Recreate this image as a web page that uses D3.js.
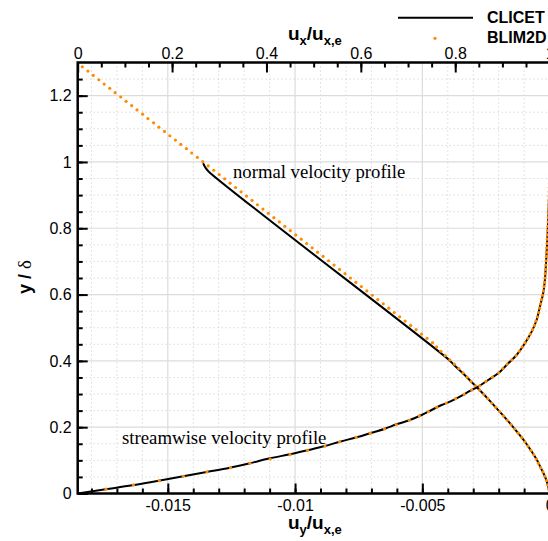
<!DOCTYPE html>
<html>
<head>
<meta charset="utf-8">
<script src="https://cdn.jsdelivr.net/npm/d3@7"></script>
<style>
body { margin: 0; background: #fff; }
</style>
</head>
<body>
<svg id="chart"></svg>
<script>
// tick labels
var bottomTicks = [-0.015, -0.01, -0.005, 0];
var topTicks = [0, 0.2, 0.4, 0.6, 0.8, 1];
var leftTicks = [0, 0.2, 0.4, 0.6, 0.8, 1, 1.2];

// CLICET, streamwise profile (u_x/u_x,e against y/delta)
var clicetStreamU = [0, 0.0593, 0.1157, 0.1716, 0.2237, 0.2733, 0.3206, 0.365, 0.4074, 0.4498, 0.4886, 0.5239,
  0.5557, 0.5911, 0.6193, 0.6511, 0.6758, 0.704, 0.7288, 0.75, 0.7712, 0.7888, 0.81, 0.8312, 0.8487, 0.8699,
  0.8911, 0.9123, 0.9301, 0.9477, 0.9619, 0.9725, 0.9794, 0.9864, 0.99, 0.9936, 0.9958, 0.9985, 1];
var clicetStreamY = [0, 0.0127, 0.0247, 0.0386, 0.0519, 0.0649, 0.0769, 0.0911, 0.1062, 0.1183, 0.1312, 0.1433,
  0.1563, 0.1695, 0.1816, 0.1955, 0.2087, 0.2217, 0.2368, 0.2519, 0.267, 0.2769, 0.292, 0.3092, 0.3222, 0.3424,
  0.3626, 0.3928, 0.4178, 0.4531, 0.4881, 0.5234, 0.5635, 0.6039, 0.644, 0.7246, 0.7849, 0.885, 0.996];

// CLICET, normal profile (u_y/u_x,e against y/delta)
var clicetNormalU = [0, -0.00003, -0.00007, -0.000185, -0.00035, -0.00052, -0.000735, -0.000968, -0.001235,
  -0.001512, -0.001812, -0.002118, -0.002428, -0.002752, -0.003085, -0.003428, -0.003785, -0.003952,
  -0.013388, -0.013526, -0.013612];
var clicetNormalY = [0, 0.013, 0.026, 0.052, 0.078, 0.104, 0.13, 0.156, 0.182, 0.208, 0.234, 0.26, 0.286, 0.312,
  0.338, 0.364, 0.39, 0.403, 0.9707, 0.9834, 0.9961];

// BLIM2D, both profiles on the same wall-normal points
var blimY = [0, 0.013, 0.026, 0.039, 0.052, 0.065, 0.078, 0.091, 0.104, 0.117, 0.13, 0.143, 0.156, 0.169, 0.182,
  0.195, 0.208, 0.221, 0.234, 0.247, 0.26, 0.273, 0.286, 0.299, 0.312, 0.325, 0.338, 0.351, 0.364, 0.377, 0.39,
  0.403, 0.416, 0.429, 0.442, 0.455, 0.468, 0.481, 0.494, 0.507, 0.52, 0.533, 0.546, 0.559, 0.572, 0.585, 0.598,
  0.611, 0.624, 0.637, 0.65, 0.663, 0.676, 0.689, 0.702, 0.715, 0.728, 0.741, 0.754, 0.767, 0.78, 0.793, 0.806,
  0.819, 0.832, 0.845, 0.858, 0.871, 0.884, 0.897, 0.91, 0.923, 0.936, 0.949, 0.962, 0.975, 0.988, 1.001, 1.014,
  1.027, 1.04, 1.053, 1.066, 1.079, 1.092, 1.105, 1.118, 1.131, 1.144, 1.157, 1.17, 1.183, 1.196, 1.209, 1.222,
  1.235, 1.248, 1.261, 1.274, 1.287, 1.3];
var blimStreamU = [0, 0.06, 0.118, 0.173, 0.224, 0.274, 0.324, 0.365, 0.408, 0.45, 0.487, 0.524, 0.555, 0.59,
  0.62, 0.65, 0.675, 0.703, 0.724, 0.743, 0.761, 0.781, 0.801, 0.819, 0.835, 0.852, 0.865, 0.879, 0.892, 0.901,
  0.91, 0.92, 0.929, 0.936, 0.942, 0.948, 0.954, 0.959, 0.964, 0.968, 0.971, 0.974, 0.977, 0.979, 0.981, 0.983,
  0.985, 0.987, 0.988, 0.9894, 0.9903, 0.9908, 0.9914, 0.992, 0.9926, 0.9932, 0.9937, 0.9942, 0.9947, 0.9952,
  0.9957, 0.9961, 0.9966, 0.997, 0.9974, 0.9978, 0.9981, 0.9984, 0.9987, 0.999, 0.9992, 0.9994, 0.9996, 0.9998,
  0.9999, 1, 1, 1, 1, 1, 1, 1, 1, 1, 1, 1, 1, 1, 1, 1, 1, 1, 1, 1, 1, 1, 1, 1, 1, 1, 1];
var blimNormalU = [0, -0.00003, -0.00007, -0.000122, -0.000185, -0.000262, -0.00035, -0.00044, -0.00052,
  -0.000622, -0.000735, -0.000852, -0.000968, -0.001095, -0.001235, -0.001372, -0.001512, -0.00166, -0.001812,
  -0.001965, -0.002118, -0.002272, -0.002428, -0.002588, -0.002752, -0.002918, -0.003085, -0.00324, -0.0034,
  -0.003565, -0.00374, -0.00392, -0.0041, -0.00427, -0.00444, -0.004601, -0.004816, -0.005031, -0.005246,
  -0.005461, -0.005676, -0.005891, -0.006105, -0.00632, -0.006535, -0.00675, -0.006965, -0.00718, -0.007395,
  -0.00761, -0.007825, -0.008039, -0.008254, -0.008469, -0.008684, -0.008899, -0.009114, -0.009329, -0.009544,
  -0.009759, -0.009973, -0.010188, -0.010403, -0.010618, -0.010833, -0.011048, -0.011263, -0.011478, -0.011693,
  -0.011907, -0.012122, -0.012337, -0.012552, -0.012767, -0.012982, -0.013197, -0.013412, -0.013627, -0.01384,
  -0.01406, -0.01427, -0.01449, -0.0147, -0.01492, -0.01513, -0.01535, -0.01556, -0.01578, -0.01599, -0.01621,
  -0.01642, -0.01664, -0.01685, -0.01707, -0.01728, -0.0175, -0.01771, -0.01793, -0.01814, -0.01836, -0.01854];

var W = 548, H = 541;
var box = {left: 77.7, right: 549.6, top: 62.5, bottom: 493.5};
var sans = "Liberation Sans, Arial, sans-serif";
var serif = "Liberation Serif, Times New Roman, serif";

var x = d3.scaleLinear().domain([-0.01854, 0]).range([box.left, box.right]);
var xTop = d3.scaleLinear().domain([0, 1]).range([box.left, box.right]);
var y = d3.scaleLinear().domain([0, 1.3]).range([box.bottom, box.top]);

var svg = d3.select("#chart").attr("width", W).attr("height", H).attr("font-family", sans);

svg.append("clipPath").attr("id", "plotclip")
  .append("rect")
    .attr("x", box.left).attr("y", box.top)
    .attr("width", box.right - box.left).attr("height", box.bottom - box.top);

// grid
var grid = svg.append("g");
var vMinor = d3.range(-18, 0).map(function (d) { return d / 1000; }).filter(function (d) { return Math.round(d * 1000) % 5 != 0; });
var hMinor = d3.range(1, 26).map(function (d) { return d / 20; }).filter(function (d) { return Math.round(d * 20) % 4 != 0; });

grid.selectAll(".vmin").data(vMinor).enter().append("line")
    .attr("x1", x).attr("x2", x).attr("y1", box.top).attr("y2", box.bottom)
    .attr("stroke", "#c8c8c8").attr("stroke-width", 1).attr("stroke-dasharray", "1,3");
grid.selectAll(".hmin").data(hMinor).enter().append("line")
    .attr("y1", y).attr("y2", y).attr("x1", box.left).attr("x2", box.right)
    .attr("stroke", "#c8c8c8").attr("stroke-width", 1).attr("stroke-dasharray", "1,3");
grid.selectAll(".vmaj").data(bottomTicks.slice(0, 3)).enter().append("line")
    .attr("x1", x).attr("x2", x).attr("y1", box.top).attr("y2", box.bottom)
    .attr("stroke", "#dcdcdc").attr("stroke-width", 1.2);
grid.selectAll(".hmaj").data(leftTicks.slice(1)).enter().append("line")
    .attr("y1", y).attr("y2", y).attr("x1", box.left).attr("x2", box.right)
    .attr("stroke", "#dcdcdc").attr("stroke-width", 1.2);

// curves
var plot = svg.append("g").attr("clip-path", "url(#plotclip)");

var lineStream = d3.line()
    .x(function (i) { return xTop(clicetStreamU[i]); })
    .y(function (i) { return y(clicetStreamY[i]); })
    .curve(d3.curveCatmullRom.alpha(0.5));
var lineNormal = d3.line()
    .x(function (i) { return x(clicetNormalU[i]); })
    .y(function (i) { return y(clicetNormalY[i]); })
    .curve(d3.curveCatmullRom.alpha(0.5));

plot.append("path").datum(d3.range(clicetStreamU.length))
    .attr("d", lineStream).attr("fill", "none").attr("stroke", "#000").attr("stroke-width", 2);
plot.append("path").datum(d3.range(clicetNormalU.length))
    .attr("d", lineNormal).attr("fill", "none").attr("stroke", "#000").attr("stroke-width", 2);

var orange = "#ff8c00";
plot.selectAll(".dotS").data(d3.range(blimY.length)).enter().append("circle")
    .attr("cx", function (i) { return xTop(blimStreamU[i]); })
    .attr("cy", function (i) { return y(blimY[i]); })
    .attr("r", 1.6).attr("fill", orange);
plot.selectAll(".dotN").data(d3.range(blimY.length)).enter().append("circle")
    .attr("cx", function (i) { return x(blimNormalU[i]); })
    .attr("cy", function (i) { return y(blimY[i]); })
    .attr("r", 1.6).attr("fill", orange);

// axes
function styleAxis(g) {
  g.attr("font-family", sans).attr("font-size", 16);
  g.select(".domain").remove();
  g.selectAll(".tick line").attr("stroke", "#000").attr("stroke-width", 2);
  g.selectAll("text").attr("fill", "#000");
}
var fmt = function (d) { return d === 0 ? "0" : String(d); };

var minorBottom = d3.range(-18, 0).map(function (d) { return d / 1000; });
var minorTop = d3.range(1, 20).map(function (d) { return d / 20; });
var minorLeft = d3.range(1, 26).map(function (d) { return d / 20; });

svg.append("g").attr("transform", "translate(0," + box.bottom + ")")
    .call(d3.axisBottom(x).tickValues(minorBottom).tickFormat("").tickSize(-5)).call(styleAxis);
svg.append("g").attr("transform", "translate(0," + box.bottom + ")")
    .call(d3.axisBottom(x).tickValues(bottomTicks).tickFormat(fmt).tickSize(-10).tickPadding(6)).call(styleAxis);

svg.append("g").attr("transform", "translate(0," + box.top + ")")
    .call(d3.axisTop(xTop).tickValues(minorTop).tickFormat("").tickSize(-5)).call(styleAxis);
svg.append("g").attr("transform", "translate(0," + box.top + ")")
    .call(d3.axisTop(xTop).tickValues(topTicks).tickFormat(fmt).tickSize(-10).tickPadding(4)).call(styleAxis);

svg.append("g").attr("transform", "translate(" + box.left + ",0)")
    .call(d3.axisLeft(y).tickValues(minorLeft).tickFormat("").tickSize(-5)).call(styleAxis);
svg.append("g").attr("transform", "translate(" + box.left + ",0)")
    .call(d3.axisLeft(y).tickValues(leftTicks).tickFormat(fmt).tickSize(-10).tickPadding(6)).call(styleAxis);

svg.append("rect")
    .attr("x", box.left).attr("y", box.top)
    .attr("width", box.right - box.left).attr("height", box.bottom - box.top)
    .attr("fill", "none").attr("stroke", "#000").attr("stroke-width", 2.5);

// axis titles
function subTitle(g, parts) {
  var t = g.append("text").attr("font-size", 19).attr("font-weight", "bold");
  parts.forEach(function (p) {
    t.append("tspan").attr("dy", p[1]).attr("font-size", p[2]).text(p[0]);
  });
  return t;
}
subTitle(svg.append("g").attr("transform", "translate(288,40)"),
  [["u", 0, 19], ["x", 5, 13], ["/u", -5, 19], ["x,e", 5, 13]]);
subTitle(svg.append("g").attr("transform", "translate(288,529)"),
  [["u", 0, 19], ["y", 5, 13], ["/u", -5, 19], ["x,e", 5, 13]]);

var yt = svg.append("text").attr("transform", "translate(31,277) rotate(-90)")
    .attr("text-anchor", "middle").attr("font-size", 18);
yt.append("tspan").attr("font-weight", "bold").text("y / ");
yt.append("tspan").attr("font-family", serif).attr("font-size", 19).text("δ");

// annotations
svg.append("text").attr("x", 233).attr("y", 178).attr("font-size", 18.7)
    .attr("font-family", serif).text("normal velocity profile");
svg.append("text").attr("x", 122).attr("y", 443.5).attr("font-size", 18.8)
    .attr("font-family", serif).text("streamwise velocity profile");

// legend
svg.append("line").attr("x1", 398).attr("x2", 473).attr("y1", 17.7).attr("y2", 17.7)
    .attr("stroke", "#000").attr("stroke-width", 2);
svg.append("circle").attr("cx", 435).attr("cy", 38.3).attr("r", 1.6).attr("fill", orange);
svg.append("text").attr("x", 487).attr("y", 23.3).attr("font-size", 16).attr("font-weight", "bold").text("CLICET");
svg.append("text").attr("x", 487).attr("y", 42.7).attr("font-size", 16).attr("font-weight", "bold").text("BLIM2D");
</script>
</body>
</html>
